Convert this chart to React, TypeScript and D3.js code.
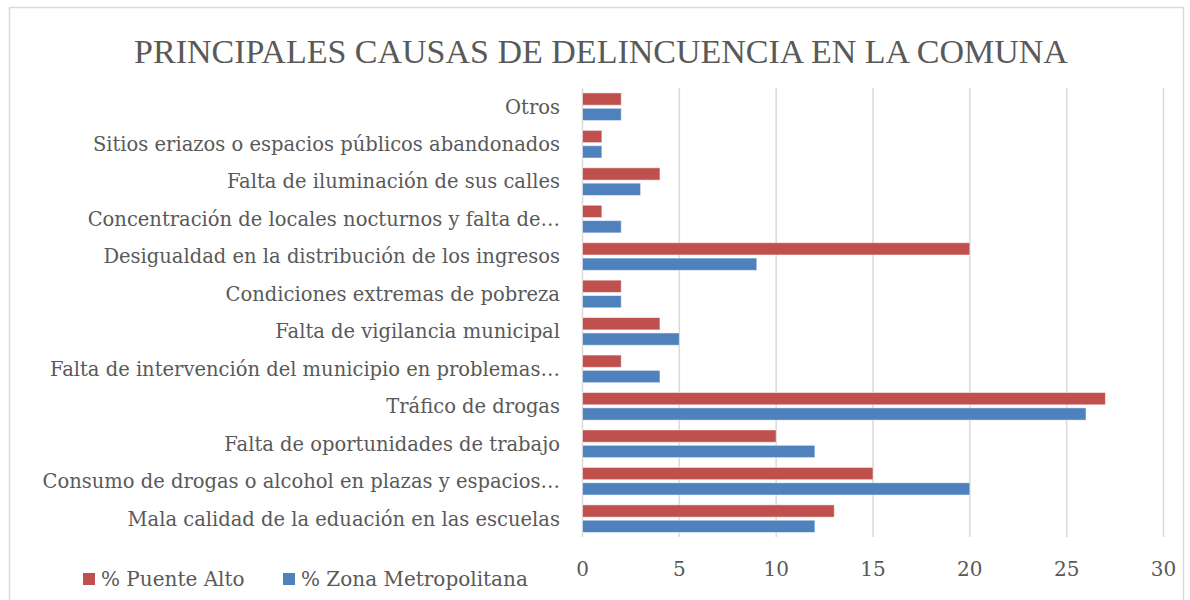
import React, { useEffect, useRef } from 'react';
import * as d3 from 'd3';

const categories = [
  'Otros',
  'Sitios eriazos o espacios públicos abandonados',
  'Falta de iluminación de sus calles',
  'Concentración de locales nocturnos y falta de…',
  'Desigualdad en la distribución de los ingresos',
  'Condiciones extremas de pobreza',
  'Falta de vigilancia municipal',
  'Falta de intervención del municipio en problemas…',
  'Tráfico de drogas',
  'Falta de oportunidades de trabajo',
  'Consumo de drogas o alcohol en plazas y espacios…',
  'Mala calidad de la eduación en las escuelas',
];

const puenteAlto = [2, 1, 4, 1, 20, 2, 4, 2, 27, 10, 15, 13];
const zonaMetropolitana = [2, 1, 3, 2, 9, 2, 5, 4, 26, 12, 20, 12];

const seriesNames = ['% Puente Alto', '% Zona Metropolitana'];
const seriesColors = ['#C0504D', '#4F81BD'];
const xTicks = [0, 5, 10, 15, 20, 25, 30];

const TITLE_FONT = '"Liberation Serif", serif';
const FONT = '"DejaVu Serif", "Liberation Serif", serif';
const TEXT = '#595959';

const App: React.FC = () => {
  const ref = useRef<SVGSVGElement | null>(null);

  useEffect(() => {
    if (!ref.current) return;
    const svg = d3.select(ref.current);
    svg.selectAll('*').remove();

    // chart border
    svg
      .append('rect')
      .attr('x', 9.5)
      .attr('y', 7.5)
      .attr('width', 1174)
      .attr('height', 600)
      .attr('fill', '#fff')
      .attr('stroke', '#D9D9D9')
      .attr('stroke-width', 1.5);

    svg
      .append('text')
      .attr('x', 601)
      .attr('y', 63)
      .attr('text-anchor', 'middle')
      .attr('font-family', TITLE_FONT)
      .attr('font-size', 34)
      .attr('fill', TEXT)
      .text('PRINCIPALES CAUSAS DE DELINCUENCIA EN LA COMUNA');

    const x = d3.scaleLinear().domain([0, 30]).range([582.5, 1163.5]);
    const y = d3.scaleBand<string>().domain(categories).range([88, 537.4]);
    const inner = d3
      .scaleBand<string>()
      .domain(seriesNames)
      .range([0, y.bandwidth()])
      .paddingInner(0.2)
      .paddingOuter(0.32);

    // gridlines
    svg
      .append('g')
      .selectAll('line')
      .data(xTicks)
      .enter()
      .append('line')
      .attr('x1', (d) => x(d))
      .attr('x2', (d) => x(d))
      .attr('y1', 88)
      .attr('y2', 537)
      .attr('stroke', '#D9D9D9')
      .attr('stroke-width', 1.5);

    const series = [puenteAlto, zonaMetropolitana];
    series.forEach((vals, si) => {
      svg
        .append('g')
        .selectAll('rect')
        .data(vals)
        .enter()
        .append('rect')
        .attr('x', x(0))
        .attr('y', (d, i) => (y(categories[i]) as number) + (inner(seriesNames[si]) as number))
        .attr('width', (d) => x(d) - x(0))
        .attr('height', inner.bandwidth())
        .attr('fill', seriesColors[si])
        .attr('stroke', '#fff')
        .attr('stroke-opacity', 0.5)
        .attr('stroke-width', 1);
    });

    // category labels
    svg
      .append('g')
      .selectAll('text')
      .data(categories)
      .enter()
      .append('text')
      .attr('x', 560)
      .attr('y', (d) => (y(d) as number) + y.bandwidth() / 2)
      .attr('dy', '0.35em')
      .attr('text-anchor', 'end')
      .attr('font-family', FONT)
      .attr('font-size', 19.5)
      .attr('fill', TEXT)
      .text((d) => d);

    // x tick labels
    svg
      .append('g')
      .selectAll('text')
      .data(xTicks)
      .enter()
      .append('text')
      .attr('x', (d) => x(d))
      .attr('y', 569)
      .attr('dy', '0.35em')
      .attr('text-anchor', 'middle')
      .attr('font-family', FONT)
      .attr('font-size', 20)
      .attr('fill', TEXT)
      .text((d) => d);

    // legend
    const legendX = [83, 283];
    seriesNames.forEach((name, i) => {
      const g = svg.append('g').attr('transform', `translate(${legendX[i]},573)`);
      g.append('rect').attr('width', 12).attr('height', 12).attr('fill', seriesColors[i]);
      g.append('text')
        .attr('x', 18)
        .attr('y', 6)
        .attr('dy', '0.35em')
        .attr('font-family', FONT)
        .attr('font-size', 20)
        .attr('fill', TEXT)
        .text(name);
    });
  }, []);

  return (
    <svg
      ref={ref}
      width={1190}
      height={600}
      style={{ position: 'absolute', left: 0, top: 0, background: '#fff' }}
    ></svg>
  );
};

export default App;
